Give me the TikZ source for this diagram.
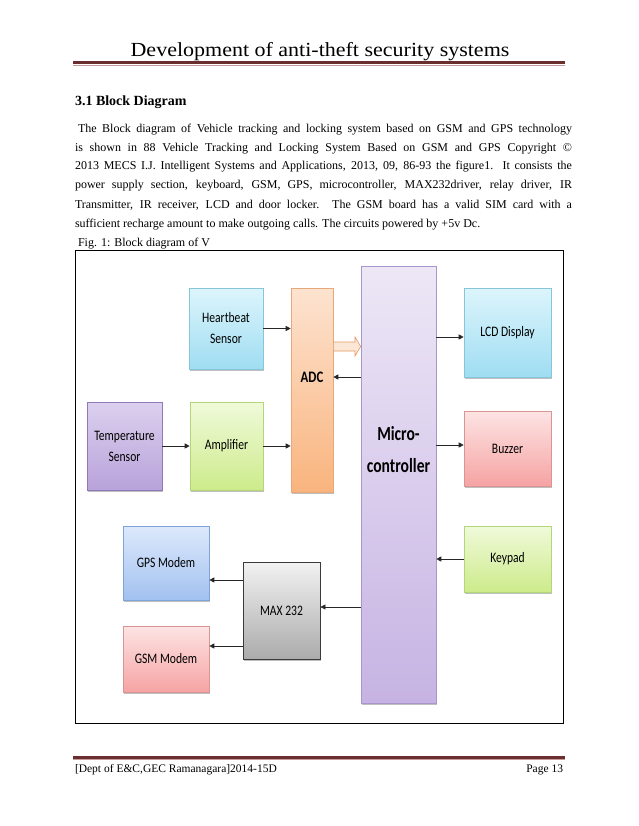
\documentclass[tikz,border=0pt]{standalone}
\usepackage{fontspec}
\setmainfont{Liberation Serif}
\newfontfamily\dfont[FakeStretch=0.8]{Carlito}
\newfontfamily\mfont[FakeStretch=0.78]{Carlito}
\newfontfamily\hfont[FakeStretch=1.1]{Liberation Serif}
\usetikzlibrary{arrows.meta,shadows}
\definecolor{cyanT}{HTML}{DDF5FC}\definecolor{cyanM}{HTML}{9FDDF2}\definecolor{cyanB}{HTML}{86C5DA}
\definecolor{peachT}{HTML}{FDE3D0}\definecolor{peachM}{HTML}{F9B47E}\definecolor{peachB}{HTML}{E8A878}
\definecolor{lavT}{HTML}{EDE7F6}\definecolor{lavM}{HTML}{C6B3E3}\definecolor{lavB}{HTML}{A896CF}
\definecolor{purT}{HTML}{DCD0EE}\definecolor{purM}{HTML}{B8A2DA}\definecolor{purB}{HTML}{8F7AB8}
\definecolor{grnT}{HTML}{F0FADA}\definecolor{grnM}{HTML}{CDEB8B}\definecolor{grnB}{HTML}{B4D67A}
\definecolor{pnkT}{HTML}{FDE4E4}\definecolor{pnkM}{HTML}{F6A3A3}\definecolor{pnkB}{HTML}{D99494}
\definecolor{bluT}{HTML}{DDE9FB}\definecolor{bluM}{HTML}{A2C1F0}\definecolor{bluB}{HTML}{7FA3D8}
\definecolor{gryT}{HTML}{F2F2F2}\definecolor{gryM}{HTML}{ABABAB}\definecolor{gryB}{HTML}{3A3A3A}
\definecolor{ruleD}{HTML}{6B2E2E}\definecolor{ruleL}{HTML}{C49A9A}
\definecolor{blkF}{HTML}{FCE6D6}\definecolor{blkB}{HTML}{E39A62}
\tikzset{
  box/.style={draw, line width=0.6pt, inner sep=2pt, align=center,
    font=\dfont\fontsize{14.5pt}{21pt}\selectfont,
    drop shadow={shadow xshift=1.2pt, shadow yshift=-1.5pt, opacity=0.25, fill=black}},
  cyanbox/.style={box, draw=cyanB, top color=cyanT, bottom color=cyanM},
  peachbox/.style={box, draw=peachB, top color=peachT, bottom color=peachM},
  lavbox/.style={box, draw=lavB, top color=lavT, bottom color=lavM},
  purbox/.style={box, draw=purB, top color=purT, bottom color=purM},
  grnbox/.style={box, draw=grnB, top color=grnT, bottom color=grnM},
  pnkbox/.style={box, draw=pnkB, top color=pnkT, bottom color=pnkM},
  blubox/.style={box, draw=bluB, top color=bluT, bottom color=bluM},
  grybox/.style={box, draw=gryB, line width=0.8pt, top color=gryT, bottom color=gryM},
  arr/.style={draw=black!85, line width=0.7pt, -{Triangle[length=5pt,width=5pt]}},
  txt/.style={inner sep=0pt, outer sep=0pt},
  para/.style={txt, anchor=base west, font=\fontsize{12pt}{14pt}\selectfont},
}
\begin{document}
\begin{tikzpicture}[x=1pt,y=-1pt]
\useasboundingbox (0,0) rectangle (638,826);
% header
\node[txt, anchor=base] (title) at (320,57) {\hfont\fontsize{20pt}{24pt}\selectfont Development of anti-theft security systems};
\draw[ruleD, line width=3pt] (73,63) -- (565,63);
\draw[ruleL, line width=0.8pt] (73,65.6) -- (565,65.6);
% heading and paragraph
\node[txt, anchor=west, font=\bfseries\fontsize{14pt}{16pt}\selectfont] (head) at (75,102) {3.1 Block Diagram};
\node[para] (p1) at (78,133) {\makebox[494pt][s]{The Block diagram of Vehicle tracking and locking system based on GSM and GPS technology}};
\node[para] (p2) at (75,152) {\makebox[497pt][s]{is shown in 88 Vehicle Tracking and Locking System Based on GSM and GPS Copyright ©}};
\node[para] (p3) at (75,170) {\makebox[497pt][s]{2013 MECS I.J. Intelligent Systems and Applications, 2013, 09, 86-93 the figure1. It consists the}};
\node[para] (p4) at (75,189) {\makebox[497pt][s]{power supply section, keyboard, GSM, GPS, microcontroller, MAX232driver, relay driver, IR}};
\node[para] (p5) at (75,208) {\makebox[497pt][s]{Transmitter, IR receiver, LCD and door locker. The GSM board has a valid SIM card with a}};
\node[para] (p6) at (75,227) {sufficient recharge amount to make outgoing calls. The circuits powered by +5v Dc.};
\node[para] (cap) at (78,246) {Fig. 1: Block diagram of V};
% frame
\draw[line width=0.8pt] (75,250) rectangle (563,723);
% blocks
\node[cyanbox, minimum width=74pt, minimum height=81pt] (hb) at (226,328.5) {Heartbeat\\Sensor};
\node[peachbox, minimum width=42pt, minimum height=204pt] (adc) at (312,390) {};
\node[txt, font=\dfont\bfseries\fontsize{16pt}{18pt}\selectfont] (adct) at (312,377) {ADC};
\node[lavbox, minimum width=75pt, minimum height=437pt] (mc) at (398.5,484.5) {};
\node[txt, align=center, font=\mfont\bfseries\fontsize{20pt}{32pt}\selectfont] (mct) at (398.5,450) {Micro-\\controller};
\node[cyanbox, minimum width=87pt, minimum height=89pt] (lcd) at (507.5,332.5) {LCD Display};
\node[purbox, minimum width=75pt, minimum height=88pt] (temp) at (124.5,446) {Temperature\\Sensor};
\node[grnbox, minimum width=73pt, minimum height=88pt] (amp) at (226.5,446) {Amplifier};
\node[pnkbox, minimum width=87pt, minimum height=75pt] (buz) at (507.5,448.5) {Buzzer};
\node[blubox, minimum width=86pt, minimum height=74pt] (gps) at (166,563) {GPS Modem};
\node[pnkbox, minimum width=86pt, minimum height=66pt] (gsm) at (166,659) {GSM Modem};
\node[grybox, minimum width=77pt, minimum height=97pt] (max) at (281.5,610.5) {MAX 232};
\node[grnbox, minimum width=87pt, minimum height=66pt] (key) at (507.5,559) {Keypad};
% connectors
\draw[arr] (hb.east) -- (adc.west |- hb.east);
\draw[arr] (temp.east) -- (amp.west);
\draw[arr] (amp.east) -- (adc.west |- amp.east);
\filldraw[fill=blkF, draw=blkB, line width=0.6pt, line join=miter]
  (adc.east |- 0,342) -- (355,342) -- (355,337) -- (mc.west |- 0,346.5) -- (355,356) -- (355,351) -- (adc.east |- 0,351) -- cycle;
\draw[arr] (mc.west |- adct) -- (adc.east |- adct);
\draw[arr] (mc.east |- 0,337) -- (lcd.west |- 0,337);
\draw[arr] (mc.east |- 0,445) -- (buz.west |- 0,445);
\draw[arr] (key.west) -- (mc.east |- key.west);
\draw[arr] (mc.west |- 0,607) -- (max.east |- 0,607);
\draw[arr] (max.west |- 0,580) -- (gps.east |- 0,580);
\draw[arr] (max.west |- 0,646) -- (gsm.east |- 0,646);
% footer
\draw[ruleD, line width=3pt] (73,757) -- (565,757);
\draw[ruleL, line width=0.8pt] (73,759.6) -- (565,759.6);
\node[txt, anchor=base west, font=\fontsize{11.5pt}{14pt}\selectfont] (foot) at (75,772) {[Dept of E\&C,GEC Ramanagara]2014-15D};
\node[txt, anchor=base east, font=\fontsize{11.5pt}{14pt}\selectfont] (page) at (563,772) {Page 13};
\end{tikzpicture}
\end{document}
